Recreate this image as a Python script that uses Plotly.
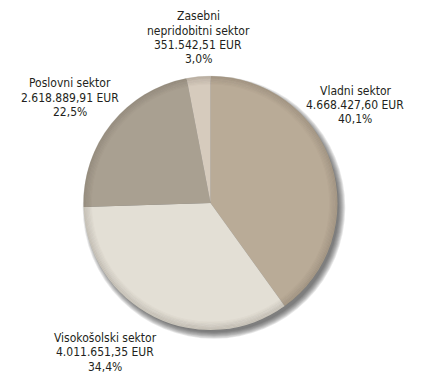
import plotly.graph_objects as go

# Data
sectors = ["Vladni sektor", "Visokošolski sektor", "Poslovni sektor", "Zasebni nepridobitni sektor"]
amounts = [4668427.60, 4011651.35, 2618889.91, 351542.51]
amount_labels = ["4.668.427,60 EUR", "4.011.651,35 EUR", "2.618.889,91 EUR", "351.542,51 EUR"]
percent_labels = ["40,1%", "34,4%", "22,5%", "3,0%"]
name_lines = [["Vladni sektor"], ["Visokošolski sektor"], ["Poslovni sektor"], ["Zasebni", "nepridobitni sektor"]]

colors = ["#b9ab97", "#e3dfd5", "#a9a091", "#d6cbbd"]

OFF = 8  # page body margin
W, H = 430 - OFF, 375 - OFF
FONT = "DejaVu Sans Condensed, Liberation Sans Narrow, sans-serif"

def px(x):
    return (x - OFF) / W

def py(y):
    return 1 - (y - OFF) / H

# label block placement in reference pixels (centre x, first line y, line step)
label_pos = [(355, 91, 14.2), (105, 337.5, 14.5), (70, 83, 14.5), (198, 16.5, 14.3)]

# pie geometry in reference pixels
CX, CY, R = 210.5, 203, 127

fig = go.Figure()
fig.add_trace(go.Pie(
    labels=sectors,
    values=amounts,
    sort=False,
    direction="clockwise",
    rotation=0,
    marker=dict(colors=colors, line=dict(width=0)),
    textinfo="none",
    hoverinfo="label+value+percent",
    showlegend=False,
    domain=dict(x=[px(CX - R), px(CX + R)], y=[py(CY + R), py(CY - R)]),
))

annotations = []
for i in range(len(sectors)):
    lines = name_lines[i] + [amount_labels[i], percent_labels[i]]
    cx, y0, step = label_pos[i]
    for j, t in enumerate(lines):
        annotations.append(dict(
            x=px(cx), y=py(y0 + j * step), xref="paper", yref="paper",
            text=t, showarrow=False, xanchor="center", yanchor="middle",
            font=dict(family=FONT, size=12, color="#231f20"),
        ))

shapes = []
# outer drop shadow (bottom-right)
for k in range(8):
    r = R - 2 + k * 0.9
    shapes.append(dict(
        type="circle", xref="paper", yref="paper",
        xsizemode="pixel", ysizemode="pixel",
        xanchor=px(CX + 3.5), yanchor=py(CY + 4.5),
        x0=-r, x1=r, y0=-r, y1=r,
        fillcolor="rgba(50,45,45,0.11)", line=dict(width=0), layer="below",
    ))
# inner bevel darkening near the rim
for k in range(7):
    r = R - 0.5 - k * 1.2
    shapes.append(dict(
        type="circle", xref="paper", yref="paper",
        xsizemode="pixel", ysizemode="pixel",
        xanchor=px(CX), yanchor=py(CY),
        x0=-r, x1=r, y0=-r, y1=r,
        fillcolor="rgba(0,0,0,0)",
        line=dict(width=1.4, color="rgba(70,60,50,%.3f)" % (0.16 * (1 - k / 7))),
        layer="above",
    ))

fig.update_layout(
    width=W, height=H,
    margin=dict(l=0, r=0, t=0, b=0),
    paper_bgcolor="white", plot_bgcolor="white",
    annotations=annotations,
    shapes=shapes,
)

fig.write_html("out.html")
